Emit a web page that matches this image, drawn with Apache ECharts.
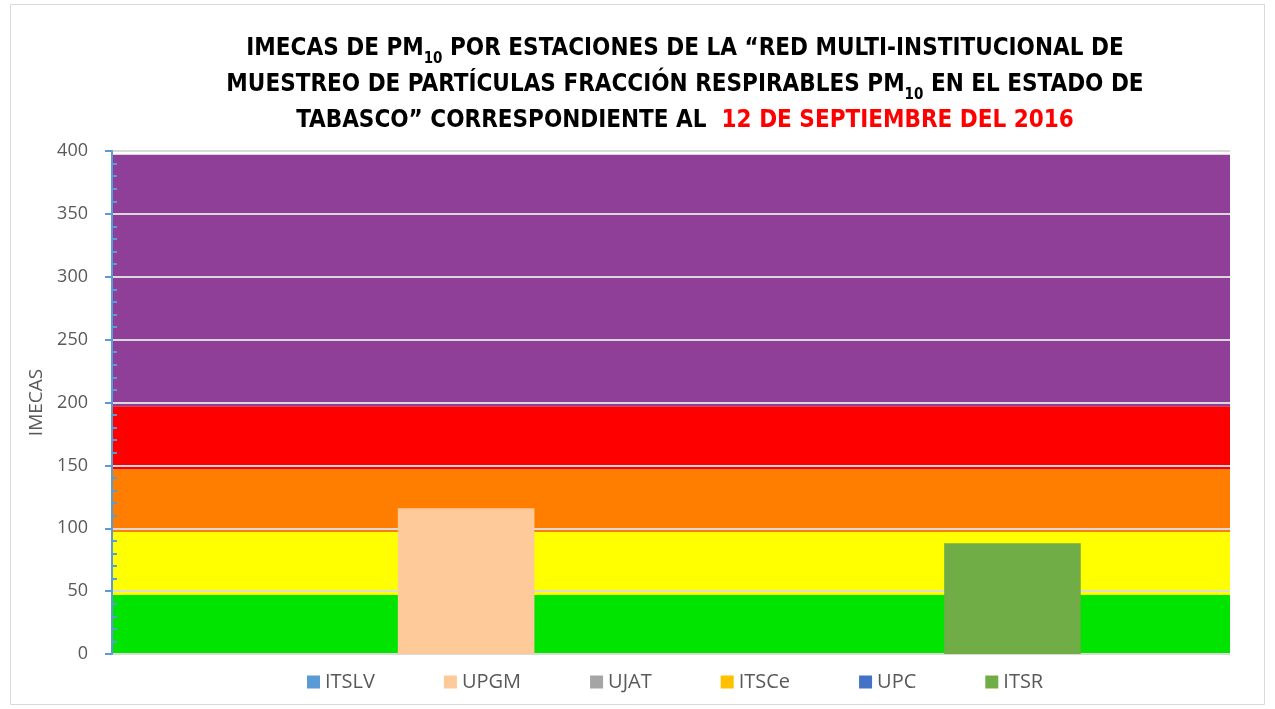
<!DOCTYPE html>
<html>
<head>
<meta charset="utf-8">
<script src="https://cdn.jsdelivr.net/npm/echarts@6/dist/echarts.min.js"></script>
<style>html,body{margin:0;padding:0;background:#fff}#c{width:1275px;height:709px}</style>
</head>
<body>
<div id="c"></div>
<script>
const stations = ['ITSLV', 'UPGM', 'UJAT', 'ITSCe', 'UPC', 'ITSR'];
const imecas = [0, 116, 0, 0, 0, 88];
const stationColors = ['#5b9bd5', '#ffca99', '#a5a5a5', '#ffc000', '#4472c4', '#70ad47'];
const bandLimits = [0, 47, 97, 147, 197, 397];
const bandColors = ['#00e400', '#ffff00', '#ff7e00', '#ff0000', '#8f3f97'];
const yTicks = [0, 50, 100, 150, 200, 250, 300, 350, 400];

const chart = echarts.init(document.getElementById('c'));
const FONT = '"Liberation Sans Narrow", "DejaVu Sans Condensed", "Open Sans", sans-serif';

const bandAreas = bandColors.map((c, i) => [
  { yAxis: bandLimits[i], itemStyle: { color: c } },
  { yAxis: bandLimits[i + 1] }
]);

const series = [{
  name: 'bands', type: 'line', data: [], silent: true,
  markArea: { silent: true, z: 1, data: bandAreas, itemStyle: { opacity: 1 } },
  markLine: {
    silent: true, z: 2, symbol: ['none', 'none'], label: { show: false },
    lineStyle: { color: '#d9d9d9', width: 2, type: 'solid' },
    data: yTicks.map(v => ({ yAxis: v }))
  }
}];
stations.forEach((s, i) => {
  series.push({
    name: s, type: 'bar', z: 3, data: [imecas[i]],
    itemStyle: { color: stationColors[i] },
    barGap: '0%', barCategoryGap: '26.7%'
  });
});

const sub = { fontSize: 15, fontWeight: 'bold', fontFamily: FONT, color: '#000', verticalAlign: 'bottom', padding: [10, 0, 0, 0] };
const nrm = { fontSize: 24, fontWeight: 'bold', fontFamily: FONT, color: '#000' };
const red = { fontSize: 24, fontWeight: 'bold', fontFamily: FONT, color: '#ff0000' };

chart.setOption({
  animation: false,
  backgroundColor: '#fff',
  title: {
    left: 680, top: 26, textAlign: 'center',
    text: '{n|IMECAS DE PM}{s|10}{n| POR ESTACIONES DE LA “RED MULTI-INSTITUCIONAL DE}\n' +
          '{n|MUESTREO DE PARTÍCULAS FRACCIÓN RESPIRABLES PM}{s|10}{n| EN EL ESTADO DE}\n' +
          '{n|TABASCO” CORRESPONDIENTE AL  }{r|12 DE SEPTIEMBRE DEL 2016}',
    textStyle: { lineHeight: 36, align: 'center', rich: { n: nrm, s: sub, r: red } }
  },
  graphic: [{
    type: 'rect', shape: { x: 10.5, y: 4.5, width: 1254, height: 700 },
    style: { fill: 'none', stroke: '#d9d9d9', lineWidth: 1 }, z: -1
  }],
  legend: {
    data: stations, bottom: 12, left: 302, itemWidth: 13, itemHeight: 13, itemGap: 69,
    icon: 'rect',
    textStyle: { fontSize: 20, color: '#595959', fontFamily: '"Open Sans", sans-serif' }
  },
  grid: { left: 112, right: 45, top: 151, bottom: 55 },
  xAxis: {
    type: 'category', data: [''],
    axisLine: { show: false }, axisTick: { show: false }, axisLabel: { show: false }
  },
  yAxis: {
    type: 'value', min: 0, max: 400, interval: 50, z: 10,
    name: 'IMECAS', nameLocation: 'middle', nameGap: 66, nameRotate: 90,
    nameTextStyle: { fontSize: 19, color: '#595959', fontFamily: '"Open Sans", sans-serif' },
    axisLine: { show: true, lineStyle: { color: '#5b9bd5', width: 2 } },
    axisTick: { show: true, length: 7, lineStyle: { color: '#5b9bd5', width: 2 } },
    minorTick: { show: true, splitNumber: 5, length: -5, lineStyle: { color: '#5b9bd5', width: 2 } },
    axisLabel: { fontSize: 18, color: '#595959', margin: 24, fontFamily: '"Open Sans", sans-serif' },
    splitLine: { show: false }
  },
  series: series
});
</script>
</body>
</html>
